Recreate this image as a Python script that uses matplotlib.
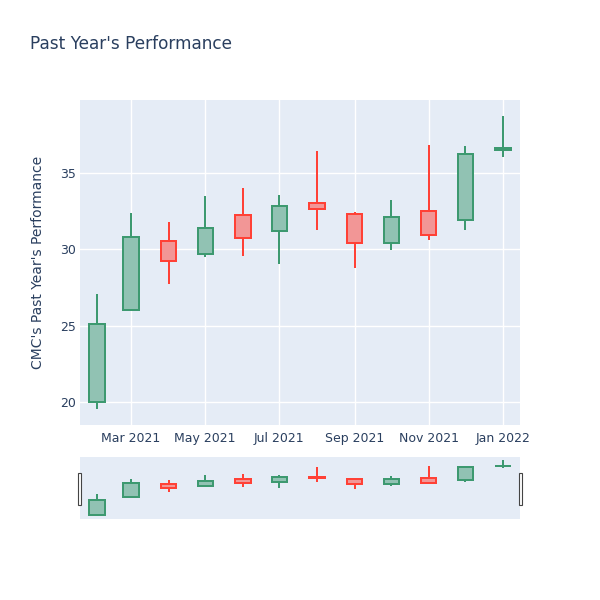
import matplotlib.pyplot as plt
import matplotlib.dates as mdates
from matplotlib.patches import Rectangle
import numpy as np
import datetime as dt

# monthly candles
dates = ['2021-02-01', '2021-03-01', '2021-04-01', '2021-05-01', '2021-06-01', '2021-07-01',
         '2021-08-01', '2021-09-01', '2021-10-01', '2021-11-01', '2021-12-01', '2022-01-01']
opens = [20.0, 26.0, 30.5, 29.7, 32.2, 31.2, 33.0, 32.3, 30.4, 32.5, 31.9, 36.5]
highs = [27.06, 32.37, 31.8, 33.46, 33.97, 33.57, 36.43, 32.44, 33.2, 36.82, 36.73, 38.7]
lows = [19.52, 26.0, 27.7, 29.5, 29.56, 29.02, 31.24, 28.74, 29.93, 30.59, 31.22, 36.03]
closes = [25.1, 30.8, 29.2, 31.4, 30.7, 32.8, 32.6, 30.4, 32.1, 30.9, 36.25, 36.6]

xtick_dates = ['2021-03-01', '2021-05-01', '2021-07-01', '2021-09-01', '2021-11-01', '2022-01-01']
xtick_labels = ['Mar 2021', 'May 2021', 'Jul 2021', 'Sep 2021', 'Nov 2021', 'Jan 2022']
yticks = [20, 25, 30, 35]

INC, DEC = '#3D9970', '#FF4136'
INC_FILL, DEC_FILL = '#91C2B3', '#F29696'
BG = '#E5ECF6'
TXT = '#2a3f5f'
LW = 1.44  # 2px


def to_num(ds):
    return mdates.date2num([dt.datetime.strptime(d, '%Y-%m-%d') for d in ds])


def draw_candles(ax, x):
    for i in range(len(x)):
        o, h, l, c = opens[i], highs[i], lows[i], closes[i]
        up = c >= o
        col = INC if up else DEC
        fill = INC_FILL if up else DEC_FILL
        lo_b, hi_b = min(o, c), max(o, c)
        ax.vlines(x[i], l, h, color=col, linewidth=LW, zorder=2)
        ax.bar(x[i], hi_b - lo_b, bottom=lo_b, width=12.6, facecolor=fill,
               edgecolor=col, linewidth=LW, zorder=3)


x = to_num(dates)
xlim = to_num(['2021-01-18', '2022-01-15'])
ylim = (18.5, 39.75)

fig = plt.figure(figsize=(6, 6), dpi=100)
ax = fig.add_axes([80 / 600, 175 / 600, 440 / 600, 325 / 600])
ax.set_facecolor(BG)
draw_candles(ax, x)
ax.set_xlim(xlim)
ax.set_ylim(ylim)
ax.set_xticks(to_num(xtick_dates))
ax.set_xticklabels(xtick_labels)
ax.set_yticks(yticks)
ax.grid(True, color='white', linewidth=1)
ax.set_axisbelow(True)
for s in ax.spines.values():
    s.set_visible(False)
ax.tick_params(length=0, colors=TXT, labelsize=9)
ax.tick_params(axis='x', pad=5)
ax.tick_params(axis='y', pad=3)
ax.set_ylabel("CMC's Past Year's Performance", color=TXT, fontsize=10, labelpad=11)

# range slider
sl = fig.add_axes([80 / 600, 81 / 600, 440 / 600, 62 / 600])
sl.set_facecolor(BG)
draw_candles(sl, x)
sl.set_xlim(xlim)
sl.set_ylim(ylim)
sl.set_xticks([])
sl.set_yticks([])
for s in sl.spines.values():
    s.set_visible(False)
for hx in [77.5, 518.5]:
    fig.patches.append(Rectangle((hx / 600, (600 - 505) / 600), 3.5 / 600, 32 / 600,
                                 transform=fig.transFigure, facecolor='white',
                                 edgecolor='#444444', linewidth=0.8))

fig.text(30 / 600, 1 - 44 / 600, "Past Year's Performance", color=TXT, fontsize=12.2,
         va='center', ha='left')

fig.savefig('out.png', dpi=100)
